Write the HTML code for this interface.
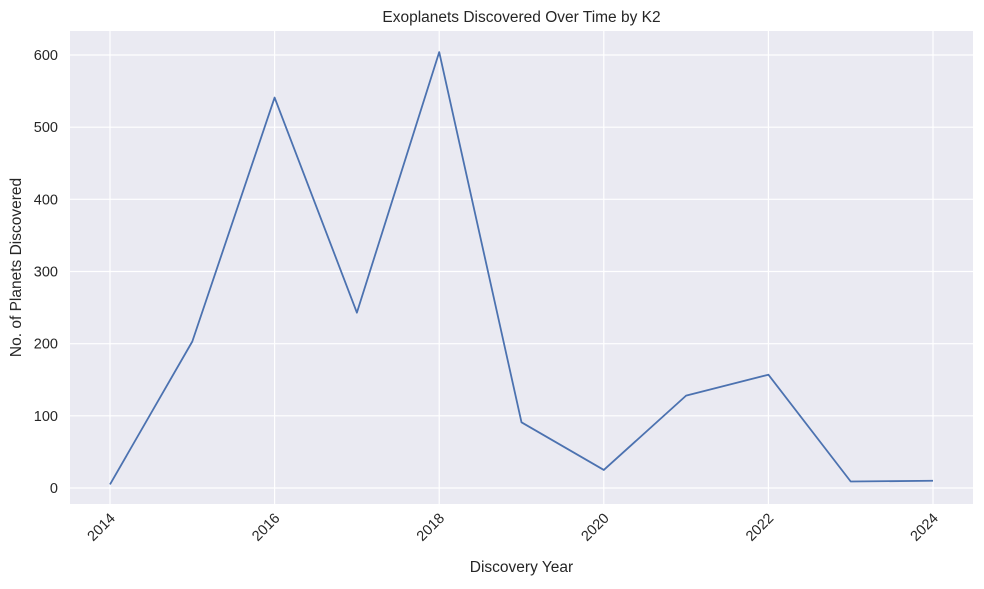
<!DOCTYPE html>
<html><head><meta charset="utf-8"><style>
body{margin:0;background:#fff;font-family:"Liberation Sans","DejaVu Sans",sans-serif;}
svg text{fill:#262626;}
</style></head><body>
<svg id="c" width="984" height="584" xmlns="http://www.w3.org/2000/svg"></svg>
<script>
const years=[2014,2015,2016,2017,2018,2019,2020,2021,2022,2023,2024];
const counts=[5,203,541,243,604,91,25,128,157,9,10];
const yTicks=[0,100,200,300,400,500,600];
const xTicks=[2014,2016,2018,2020,2022,2024];
const L=70,R=973,T=31,B=504;
const xs=v=>110+(v-2014)*(933-110)/10;
const ys=v=>488-v*(488-55)/600;
const svg=document.getElementById('c');
const NS='http://www.w3.org/2000/svg';
function mk(t,a,p){const e=document.createElementNS(NS,t);for(const k in a)e.setAttribute(k,a[k]);(p||svg).appendChild(e);return e;}
const bg=mk('rect',{x:L,y:T,width:R-L,height:B-T,fill:'#eaeaf2'});


yTicks.forEach(v=>{
 const g=mk('line',{x1:L,x2:R,y1:ys(v),y2:ys(v),stroke:'#fff','stroke-width':1.2});
 
 
 const t=mk('text',{x:L-12,y:ys(v)+5,'text-anchor':'end','font-size':14.5});
 t.textContent=v;
 
 
});
xTicks.forEach(v=>{
 const g=mk('line',{x1:xs(v),x2:xs(v),y1:T,y2:B,stroke:'#fff','stroke-width':1.2});
 
 
 const t=mk('text',{x:xs(v)+6,y:B+15,'text-anchor':'end','font-size':14.5,transform:`rotate(-45 ${xs(v)+6} ${B+15})`});
 t.textContent=v;
 
 
});
const line=mk('polyline',{points:years.map((y,i)=>xs(y)+','+ys(counts[i])).join(' '),fill:'none',stroke:'#4c72b0','stroke-width':1.8,'stroke-linejoin':'round'});


const ti=mk('text',{x:(L+R)/2,y:22,'text-anchor':'middle','font-size':15.5});
ti.textContent='Exoplanets Discovered Over Time by K2';


const xl=mk('text',{x:(L+R)/2,y:572,'text-anchor':'middle','font-size':15.5});
xl.textContent='Discovery Year';


const yl=mk('text',{x:21,y:(T+B)/2,'text-anchor':'middle','font-size':15.5,transform:`rotate(-90 21 ${(T+B)/2})`});
yl.textContent='No. of Planets Discovered';


</script>
</body></html>
